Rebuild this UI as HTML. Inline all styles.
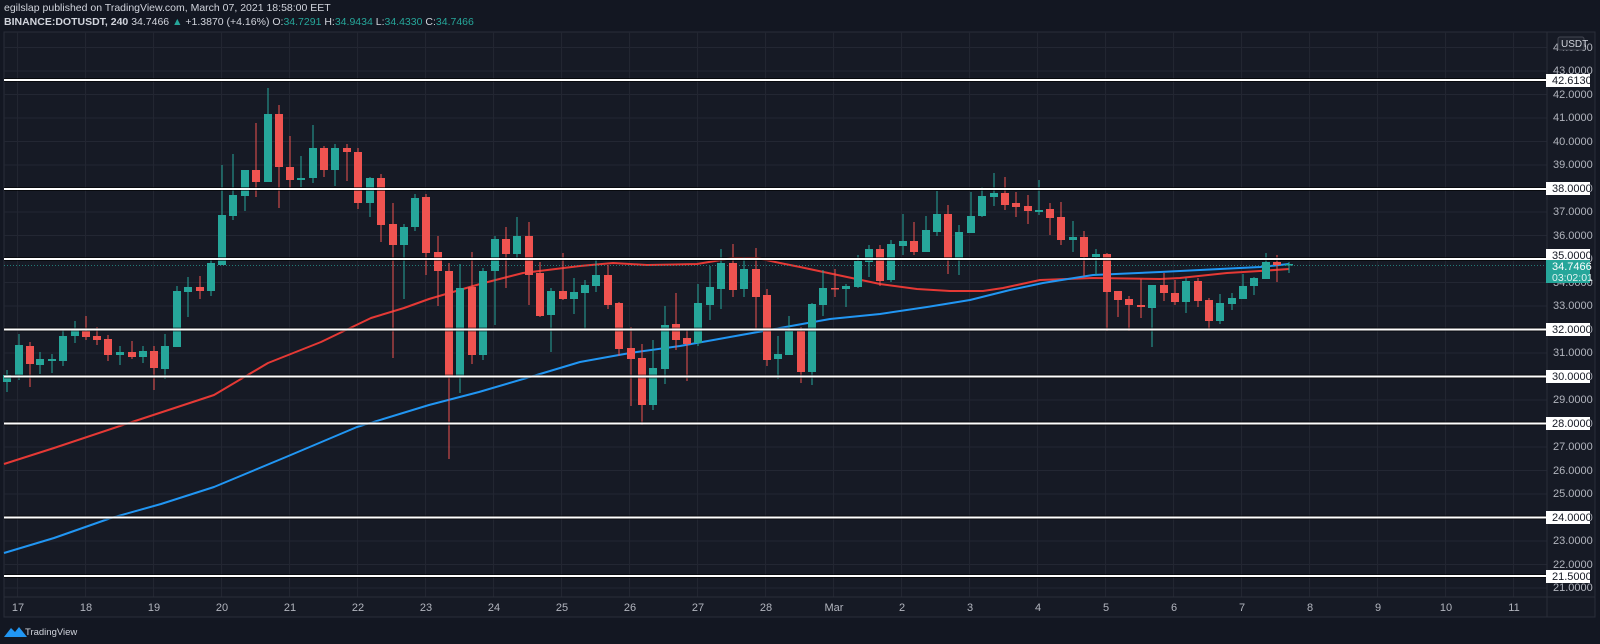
<!DOCTYPE html>
<html><head><meta charset="utf-8"><style>
html,body{margin:0;padding:0;background:#131722;}
body{width:1600px;height:644px;overflow:hidden;position:relative;font-family:"Liberation Sans",sans-serif;}
.h{position:absolute;left:4px;font-size:10.5px;color:#d1d4dc;white-space:nowrap;}
.g{color:#26a69a}
</style></head><body>
<div class="h" style="top:2px;">egilslap published on TradingView.com, March 07, 2021 18:58:00 EET</div>
<div class="h" style="top:16px;font-weight:bold;">BINANCE:DOTUSDT, 240 <span style="font-weight:normal">34.7466 <span class="g">▲</span> +1.3870 (+4.16%) O:<span class="g">34.7291</span> H:<span class="g">34.9434</span> L:<span class="g">34.4330</span> C:<span class="g">34.7466</span></span></div>
<svg width="1600" height="644" style="position:absolute;left:0;top:0" xmlns="http://www.w3.org/2000/svg" font-family="Liberation Sans, sans-serif">
<rect x="4" y="32" width="1591" height="585" fill="#161a25" stroke="#2a2e39"/>
<g id="grid" stroke="#232733" stroke-width="1"></g>
<line x1="1547" y1="32" x2="1547" y2="617" stroke="#2a2e39"/>
<line x1="4" y1="597" x2="1595" y2="597" stroke="#2a2e39"/>
<g id="ma"></g>
<line x1="4" y1="265.5" x2="1547" y2="265.5" stroke="#26a69a" stroke-width="1" stroke-dasharray="1,2" opacity="0.7"/>
<g id="c"></g>
<g id="hl"></g>
<g font-size="11" fill="#b2b5be">
<text x="1553" y="51">44.0000</text><text x="1553" y="74">43.0000</text><text x="1553" y="98">42.0000</text>
<text x="1553" y="121">41.0000</text><text x="1553" y="145">40.0000</text><text x="1553" y="168">39.0000</text>
<text x="1553" y="192">38.0000</text><text x="1553" y="215">37.0000</text><text x="1553" y="239">36.0000</text>
<text x="1553" y="262">35.0000</text><text x="1553" y="286">34.0000</text><text x="1553" y="309">33.0000</text>
<text x="1553" y="333">32.0000</text><text x="1553" y="356">31.0000</text><text x="1553" y="380">30.0000</text>
<text x="1553" y="403">29.0000</text><text x="1553" y="427">28.0000</text><text x="1553" y="450">27.0000</text>
<text x="1553" y="474">26.0000</text><text x="1553" y="497">25.0000</text><text x="1553" y="521">24.0000</text>
<text x="1553" y="544">23.0000</text><text x="1553" y="568">22.0000</text><text x="1553" y="591">21.0000</text>
</g>
<g font-size="11" fill="#131722">
<rect x="1546" y="74" width="44" height="13" fill="#fff"/><text x="1552" y="84">42.6130</text>
<rect x="1546" y="182" width="44" height="13" fill="#fff"/><text x="1552" y="192">38.0000</text>
<rect x="1546" y="249" width="44" height="12" fill="#fff"/><text x="1552" y="259">35.0000</text>
<rect x="1546" y="323" width="44" height="13" fill="#fff"/><text x="1552" y="333">32.0000</text>
<rect x="1546" y="370" width="44" height="13" fill="#fff"/><text x="1552" y="380">30.0000</text>
<rect x="1546" y="417" width="44" height="13" fill="#fff"/><text x="1552" y="427">28.0000</text>
<rect x="1546" y="511" width="44" height="13" fill="#fff"/><text x="1552" y="521">24.0000</text>
<rect x="1546" y="570" width="44" height="13" fill="#fff"/><text x="1552" y="580">21.5000</text>
</g>
<rect x="1546" y="260" width="44" height="23" fill="#26a69a"/>
<text x="1552" y="270" font-size="11" fill="#fff">34.7466</text>
<text x="1552" y="281" font-size="10.5" fill="#e0f2f1">03:02:01</text>
<rect x="1558" y="37" width="26" height="13" rx="2" fill="#1e222d" stroke="#434651"/>
<text x="1561" y="47" font-size="10" fill="#d1d4dc">USDT</text>
<g font-size="11" fill="#b2b5be" text-anchor="middle">
<text x="18" y="611">17</text><text x="86" y="611">18</text><text x="154" y="611">19</text><text x="222" y="611">20</text>
<text x="290" y="611">21</text><text x="358" y="611">22</text><text x="426" y="611">23</text><text x="494" y="611">24</text>
<text x="562" y="611">25</text><text x="630" y="611">26</text><text x="698" y="611">27</text><text x="766" y="611">28</text>
<text x="834" y="611">Mar</text><text x="902" y="611">2</text><text x="970" y="611">3</text><text x="1038" y="611">4</text>
<text x="1106" y="611">5</text><text x="1174" y="611">6</text><text x="1242" y="611">7</text><text x="1310" y="611">8</text>
<text x="1378" y="611">9</text><text x="1446" y="611">10</text><text x="1514" y="611">11</text>
</g>
<path d="M4 637 L11 628 L15 632 L19 627 L27 637 Z" fill="#2196f3"/>
<text x="25" y="635" font-size="9.5" fill="#d1d4dc">TradingView</text>
</svg>
<script>
var ns="http://www.w3.org/2000/svg";
function el(p,t,a){var e=document.createElementNS(ns,t);for(var k in a)e.setAttribute(k,a[k]);p.appendChild(e);return e;}
var g=document.getElementById('grid');
for(var p=21;p<=44;p++){var y=259-(p-35)*23.5;el(g,'line',{x1:4,x2:1547,y1:y,y2:y});}
for(var d=0;d<=22;d++){var x=17.6+68*d;el(g,'line',{x1:x,x2:x,y1:32,y2:597});}
var ma=document.getElementById('ma');
var red=[[4,464],[54,448],[129,423],[214,395],[268,363],[321,342],[371,318],[404,308],[429,299],[480,284],[523,273],[580,266],[613,263],[647,265],[697,264],[733,258],[757,258],[780,263],[800,267],[847,277],[880,284],[917,289],[950,291],[983,291],[1003,288],[1017,285],[1040,280],[1093,278],[1160,279],[1180,278],[1227,273],[1260,271],[1289,269]];
var blue=[[4,553],[54,538],[111,518],[161,504],[214,487],[286,457],[357,427],[429,405],[479,392],[530,377],[580,362],[630,353],[680,346],[730,337],[780,328],[830,319],[880,314],[927,307],[970,300],[1010,290],[1043,283],[1093,275],[1160,272],[1260,267],[1289,264]];
function pl(a,c){el(ma,'polyline',{points:a.map(function(q){return q.join(',')}).join(' '),fill:'none',stroke:c,'stroke-width':2,'stroke-linejoin':'round'});}
pl(red,'#e53935');pl(blue,'#2196f3');
var C=[[7,375,382,370,392,'g'],[19,345,375,334,380,'g'],[30,346,364,342,387,'r'],[40,359,365,352,374,'g'],[52,359,361,354,373,'g'],[63,336,361,330,366,'g'],[75,329,336,321,343,'g'],[86,331,337,316,340,'r'],[97,336,340,327,345,'r'],[108,339,355,335,361,'r'],[120,352,355,346,365,'g'],[132,352,357,341,359,'r'],[143,351,357,346,363,'g'],[154,351,368,346,390,'r'],[165,346,369,334,379,'g'],[177,291,347,286,347,'g'],[188,287,292,277,317,'g'],[200,287,291,276,299,'r'],[211,263,291,260,296,'g'],[222,215,265,165,265,'g'],[233,195,216,154,220,'g'],[245,170,196,170,211,'g'],[256,170,182,123,197,'r'],[268,114,182,88,182,'g'],[279,114,167,105,208,'r'],[290,167,180,136,189,'r'],[301,178,180,156,187,'g'],[313,148,178,125,183,'g'],[324,148,170,146,177,'r'],[335,148,170,144,186,'g'],[347,148,152,144,181,'r'],[358,152,203,148,209,'r'],[370,178,203,177,217,'g'],[381,178,225,174,242,'r'],[393,224,245,203,358,'r'],[404,227,245,224,299,'g'],[415,198,227,194,231,'g'],[426,197,253,194,275,'r'],[438,252,271,236,306,'r'],[449,271,377,263,459,'r'],[460,288,377,264,393,'g'],[472,287,355,252,364,'r'],[483,271,355,268,360,'g'],[495,239,271,236,325,'g'],[506,239,254,227,288,'r'],[517,236,254,217,259,'g'],[529,236,275,222,305,'r'],[540,273,316,262,317,'r'],[551,291,315,288,352,'g'],[563,291,299,253,300,'r'],[574,292,299,278,314,'g'],[585,285,293,280,329,'g'],[596,275,286,260,292,'g'],[608,275,305,265,309,'r'],[619,303,349,302,356,'r'],[631,348,359,327,406,'r'],[642,358,405,344,425,'r'],[653,368,405,340,410,'g'],[665,325,369,306,384,'g'],[676,324,340,293,350,'r'],[687,338,344,330,381,'r'],[698,303,343,284,346,'g'],[710,287,305,266,320,'g'],[721,263,289,249,309,'g'],[733,263,290,244,297,'r'],[744,269,289,257,297,'g'],[756,269,297,248,330,'r'],[767,295,360,289,366,'r'],[778,354,359,336,379,'g'],[789,331,355,316,355,'g'],[801,331,372,327,383,'r'],[812,304,372,303,385,'g'],[823,288,305,270,316,'g'],[835,288,289,269,297,'r'],[846,286,289,284,307,'g'],[858,261,287,255,288,'g'],[869,249,262,245,277,'g'],[880,249,281,245,286,'r'],[891,244,280,240,282,'g'],[903,241,246,214,255,'g'],[914,241,252,222,255,'r'],[926,230,252,216,252,'g'],[937,214,232,191,236,'g'],[948,214,260,205,274,'r'],[959,232,260,225,275,'g'],[971,216,233,192,233,'g'],[982,196,216,187,217,'g'],[994,193,197,173,206,'g'],[1005,193,205,177,210,'r'],[1016,203,207,192,217,'r'],[1028,206,211,195,224,'r'],[1039,210,212,180,215,'g'],[1050,209,218,203,235,'r'],[1061,217,240,202,245,'r'],[1073,237,240,221,252,'g'],[1084,237,257,231,276,'r'],[1096,254,257,249,275,'g'],[1107,254,292,253,331,'r'],[1118,291,300,291,317,'r'],[1129,299,305,296,331,'r'],[1141,305,307,279,318,'r'],[1152,285,308,285,347,'g'],[1164,285,293,273,301,'r'],[1175,293,302,280,305,'r'],[1186,281,302,278,313,'g'],[1198,281,301,278,307,'r'],[1209,300,321,298,329,'r'],[1220,303,321,294,324,'g'],[1232,298,304,293,310,'g'],[1243,286,299,274,299,'g'],[1254,278,286,277,295,'g'],[1266,262,279,253,279,'g'],[1277,262,265,255,282,'r'],[1289,264,265,262,273,'g']];
var cg=document.getElementById('c');
C.forEach(function(c){var col=c[5]=='g'?'#26a69a':'#ef5350';
el(cg,'rect',{x:c[0]-0.5,y:c[3],width:1,height:c[4]-c[3],fill:col});
el(cg,'rect',{x:c[0]-4,y:c[1],width:8,height:Math.max(1.5,c[2]-c[1]),fill:col});});
var hl=document.getElementById('hl');
[80,189,259,329.5,376.5,423.5,517.5,576].forEach(function(y){
el(hl,'rect',{x:4,y:y-2,width:1543,height:4,fill:'#000',opacity:0.6});
el(hl,'rect',{x:4,y:y-1,width:1543,height:2,fill:'#fff'});});
</script>
</body></html>
